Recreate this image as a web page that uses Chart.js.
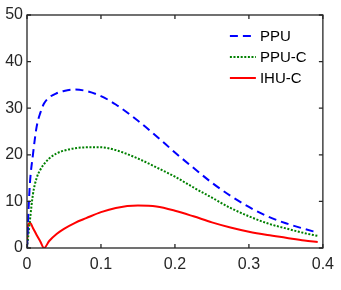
<!DOCTYPE html>
<html>
<head>
<meta charset="utf-8">
<script src="https://cdn.jsdelivr.net/npm/chart.js@4/dist/chart.umd.min.js"></script>
<style>
  html, body { margin: 0; padding: 0; background: #fff; }
  #wrap { width: 341px; height: 290px; }
</style>
</head>
<body>
<div id="wrap"><canvas id="chart" width="341" height="290"></canvas></div>
<script>
// values
const xs = [0, 0.001, 0.002, 0.004, 0.008, 0.013, 0.018, 0.023, 0.03, 0.04, 0.05, 0.065, 0.08,
  0.1, 0.12, 0.15, 0.175, 0.2, 0.225, 0.25, 0.275, 0.3, 0.325, 0.35, 0.375, 0.393];
const ppu = [0, 4, 8, 14, 20, 26, 29, 31, 32.3, 33.2, 33.7, 34.0, 33.7,
  32.6, 30.8, 27.3, 24.0, 20.5, 17.2, 14.0, 11.2, 8.8, 6.8, 5.3, 4.1, 3.3];
const ppuC = [0, 1.5, 3, 6, 11.5, 15, 16.8, 18, 19.2, 20.3, 20.9, 21.4, 21.6,
  21.6, 21.0, 19.2, 17.3, 15.3, 13.0, 10.8, 8.6, 6.8, 5.3, 4.2, 3.2, 2.6];
const ihuC = [0, 4.6, 5.1, 5.4, 4.3, 2.8, 1.4, 0, 1.5, 3.0, 4.1, 5.4, 6.4,
  7.7, 8.6, 9.1, 8.9, 8.0, 6.8, 5.5, 4.4, 3.5, 2.8, 2.2, 1.6, 1.3];
const xTicks = [0, 0.1, 0.2, 0.3, 0.4];
const yTicks = [0, 10, 20, 30, 40, 50];

const axisColor = '#262626';
const fontFamily = '"Liberation Sans", Arial, sans-serif';

function toPoints(ys) {
  return xs.map((x, i) => ({ x: x, y: ys[i] }));
}

// box around the plot with inward ticks, like the original figure
const boxPlugin = {
  id: 'box',
  afterDatasetsDraw(chart) {
    const { ctx, chartArea: a, scales } = chart;
    ctx.save();
    ctx.strokeStyle = axisColor;
    ctx.lineWidth = 1.3;
    ctx.strokeRect(a.left, a.top, a.right - a.left, a.bottom - a.top);
    const len = 4;
    ctx.beginPath();
    xTicks.forEach((v) => {
      const px = scales.x.getPixelForValue(v);
      ctx.moveTo(px, a.bottom); ctx.lineTo(px, a.bottom - len);
      ctx.moveTo(px, a.top); ctx.lineTo(px, a.top + len);
    });
    yTicks.forEach((v) => {
      const py = scales.y.getPixelForValue(v);
      ctx.moveTo(a.left, py); ctx.lineTo(a.left + len, py);
      ctx.moveTo(a.right, py); ctx.lineTo(a.right - len, py);
    });
    ctx.stroke();

    // legend in the top right corner, no frame
    ctx.font = '15px ' + fontFamily;
    ctx.textBaseline = 'middle';
    ctx.fillStyle = '#000';
    chart.data.datasets.forEach((ds, i) => {
      const y = a.top + 21 + i * 21;
      const x0 = a.right - 93;
      ctx.strokeStyle = ds.borderColor;
      ctx.lineWidth = ds.borderWidth;
      ctx.setLineDash(ds.borderDash || []);
      ctx.beginPath();
      ctx.moveTo(x0, y); ctx.lineTo(x0 + 26, y);
      ctx.stroke();
      ctx.setLineDash([]);
      ctx.fillText(ds.label, x0 + 30, y + 1);
    });
    ctx.restore();
  },
};

const chart = new Chart(document.getElementById('chart').getContext('2d'), {
  type: 'line',
  data: {
    datasets: [
      {
        label: 'PPU',
        data: toPoints(ppu),
        borderColor: '#0000ff',
        borderWidth: 2,
        borderDash: [8, 5],
      },
      {
        label: 'PPU-C',
        data: toPoints(ppuC),
        borderColor: '#008000',
        borderWidth: 2,
        borderDash: [2, 1.6],
      },
      {
        label: 'IHU-C',
        data: toPoints(ihuC),
        borderColor: '#ff0000',
        borderWidth: 2,
      },
    ],
  },
  options: {
    responsive: false,
    animation: false,
    layout: { padding: { top: 15, right: 13.9, left: 0, bottom: 0 } },
    elements: {
      point: { radius: 0 },
      line: { cubicInterpolationMode: 'monotone', fill: false },
    },
    plugins: { legend: { display: false }, tooltip: { enabled: false } },
    scales: {
      x: {
        type: 'linear',
        min: 0,
        max: 0.4,
        afterBuildTicks(s) { s.ticks = xTicks.map((v) => ({ value: v })); },
        afterFit(s) { s.height = 42; },
        grid: { display: false, drawTicks: false },
        border: { display: false },
        ticks: {
          color: axisColor,
          font: { family: fontFamily, size: 16 },
          padding: 7,
          maxRotation: 0,
          autoSkip: false,
        },
      },
      y: {
        min: 0,
        max: 50,
        afterBuildTicks(s) { s.ticks = yTicks.map((v) => ({ value: v })); },
        afterFit(s) { s.width = 27; },
        grid: { display: false, drawTicks: false },
        border: { display: false },
        ticks: {
          color: axisColor,
          font: { family: fontFamily, size: 16 },
          padding: 4,
        },
      },
    },
  },
  plugins: [boxPlugin],
});
</script>
</body>
</html>
